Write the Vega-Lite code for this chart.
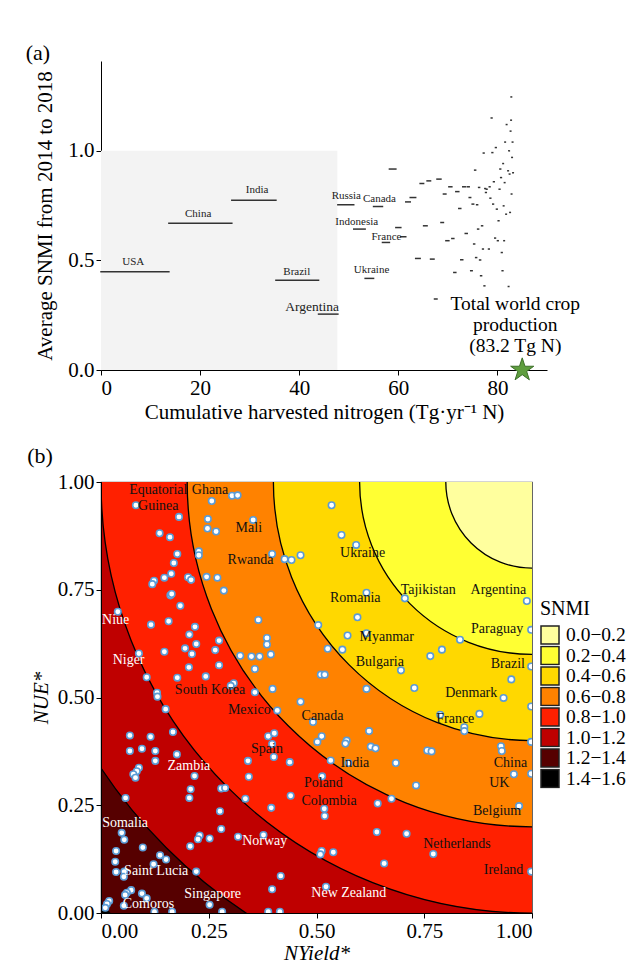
{
  "$schema": "https://vega.github.io/schema/vega-lite/v6.json",
  "background": "white",
  "padding": {"left": 25, "top": 42, "right": 5, "bottom": 0},
  "spacing": 22,
  "columns": 1,
  "align": "none",
  "resolve": {"legend": {"fill": "independent"}},
  "config": {
    "font": "Liberation Serif",
    "view": {"stroke": null},
    "axis": {"labelFont": "Liberation Serif", "titleFont": "Liberation Serif", "labelColor": "black", "titleColor": "black", "domainColor": "black", "tickColor": "black", "grid": false, "labelFontSize": 21, "titleFontSize": 21, "titleFontWeight": "normal", "tickSize": 5, "labelPadding": 2},
    "title": {"font": "Liberation Serif", "fontSize": 22, "fontWeight": "normal", "anchor": "start", "frame": "bounds", "color": "black"}
  },
  "concat": [
    {
      "title": {"text": "(a)", "offset": -4, "dx": -9},
      "width": 446,
      "height": 309,
      "layer": [
        {
          "data": {"values": [{"x0": 0, "x1": 47.7, "y0": 0, "y1": 1}]},
          "mark": {"type": "rect", "fill": "#f3f3f3"},
          "encoding": {
            "x": {"field": "x0", "type": "quantitative", "scale": {"domain": [0, 90], "nice": false, "zero": false}, "title": "Cumulative harvested nitrogen (Tg·yr⁻¹ N)", "axis": {"values": [0, 20, 40, 60, 80], "titlePadding": 3}},
            "x2": {"field": "x1"},
            "y": {"field": "y0", "type": "quantitative", "scale": {"domain": [0, 1.41], "nice": false}, "title": "Average SNMI from 2014 to 2018", "axis": {"values": [0, 0.5, 1], "format": ".1f", "titlePadding": 12}},
            "y2": {"field": "y1"}
          }
        },
        {
          "data": {"values": [
            {"start": 0, "end": 13.7, "snmi": 0.448},
            {"start": 13.7, "end": 26.4, "snmi": 0.67},
            {"start": 26.4, "end": 35.3, "snmi": 0.775},
            {"start": 35.3, "end": 43.9, "snmi": 0.41},
            {"start": 43.9, "end": 47.8, "snmi": 0.255},
            {"start": 47.8, "end": 51.0, "snmi": 0.754},
            {"start": 51.0, "end": 53.3, "snmi": 0.643},
            {"start": 53.3, "end": 55.0, "snmi": 0.418},
            {"start": 55.0, "end": 56.8, "snmi": 0.746},
            {"start": 56.8, "end": 58.2, "snmi": 0.582},
            {"start": 58.2, "end": 59.5, "snmi": 0.917},
            {"start": 59.5, "end": 60.5, "snmi": 0.65},
            {"start": 60.5, "end": 61.5, "snmi": 0.608},
            {"start": 61.5, "end": 62.4, "snmi": 0.767},
            {"start": 62.4, "end": 63.5, "snmi": 0.787},
            {"start": 63.5, "end": 64.4, "snmi": 0.509},
            {"start": 64.4, "end": 65.1, "snmi": 0.851},
            {"start": 65.1, "end": 65.8, "snmi": 0.658},
            {"start": 65.8, "end": 66.5, "snmi": 0.863},
            {"start": 66.5, "end": 67.2, "snmi": 0.506},
            {"start": 67.3, "end": 67.8, "snmi": 0.324},
            {"start": 67.8, "end": 68.6, "snmi": 0.871},
            {"start": 68.6, "end": 69.1, "snmi": 0.673},
            {"start": 69.1, "end": 69.6, "snmi": 0.803},
            {"start": 69.6, "end": 70.2, "snmi": 0.59},
            {"start": 70.2, "end": 70.8, "snmi": 0.836},
            {"start": 70.8, "end": 71.2, "snmi": 0.6},
            {"start": 71.2, "end": 71.6, "snmi": 0.445},
            {"start": 71.6, "end": 72.2, "snmi": 0.814},
            {"start": 72.2, "end": 72.6, "snmi": 0.737},
            {"start": 72.6, "end": 73.0, "snmi": 0.503},
            {"start": 73.0, "end": 73.5, "snmi": 0.836},
            {"start": 73.5, "end": 73.9, "snmi": 0.623},
            {"start": 73.9, "end": 74.3, "snmi": 0.836},
            {"start": 74.3, "end": 74.6, "snmi": 0.787},
            {"start": 74.6, "end": 74.9, "snmi": 0.453},
            {"start": 74.9, "end": 75.2, "snmi": 0.757},
            {"start": 75.2, "end": 75.4, "snmi": 0.575},
            {"start": 75.4, "end": 75.6, "snmi": 0.912},
            {"start": 75.6, "end": 75.8, "snmi": 0.513},
            {"start": 75.8, "end": 76.0, "snmi": 0.754},
            {"start": 76.0, "end": 76.2, "snmi": 0.643},
            {"start": 76.2, "end": 76.4, "snmi": 0.833},
            {"start": 76.4, "end": 76.6, "snmi": 0.502},
            {"start": 76.6, "end": 76.8, "snmi": 0.43},
            {"start": 76.8, "end": 77.0, "snmi": 0.658},
            {"start": 77.0, "end": 77.15, "snmi": 0.552},
            {"start": 77.15, "end": 77.3, "snmi": 0.99},
            {"start": 77.3, "end": 77.45, "snmi": 0.384},
            {"start": 77.45, "end": 77.6, "snmi": 0.828},
            {"start": 77.6, "end": 77.75, "snmi": 0.81},
            {"start": 77.75, "end": 77.9, "snmi": 0.825},
            {"start": 78.2, "end": 78.35, "snmi": 0.552},
            {"start": 78.35, "end": 78.5, "snmi": 0.836},
            {"start": 78.5, "end": 78.65, "snmi": 0.784},
            {"start": 78.75, "end": 78.9, "snmi": 1.15},
            {"start": 78.9, "end": 79.05, "snmi": 0.992},
            {"start": 79.05, "end": 79.2, "snmi": 0.757},
            {"start": 79.2, "end": 79.35, "snmi": 0.859},
            {"start": 79.45, "end": 79.6, "snmi": 0.602},
            {"start": 79.6, "end": 79.75, "snmi": 1.015},
            {"start": 79.8, "end": 79.95, "snmi": 0.734},
            {"start": 80.0, "end": 80.15, "snmi": 0.59},
            {"start": 80.15, "end": 80.3, "snmi": 0.681},
            {"start": 80.35, "end": 80.5, "snmi": 0.825},
            {"start": 80.5, "end": 80.65, "snmi": 0.917},
            {"start": 80.65, "end": 80.8, "snmi": 0.878},
            {"start": 80.8, "end": 80.95, "snmi": 0.536},
            {"start": 80.95, "end": 81.1, "snmi": 0.453},
            {"start": 81.1, "end": 81.2, "snmi": 0.942},
            {"start": 81.2, "end": 81.3, "snmi": 0.749},
            {"start": 81.3, "end": 81.4, "snmi": 0.59},
            {"start": 81.4, "end": 81.5, "snmi": 0.855},
            {"start": 81.5, "end": 81.6, "snmi": 1.04},
            {"start": 81.7, "end": 81.8, "snmi": 0.711},
            {"start": 81.8, "end": 81.9, "snmi": 1.12},
            {"start": 82.1, "end": 82.2, "snmi": 0.909},
            {"start": 82.2, "end": 82.3, "snmi": 0.381},
            {"start": 82.3, "end": 82.4, "snmi": 1.0},
            {"start": 82.4, "end": 82.5, "snmi": 0.894},
            {"start": 82.5, "end": 82.6, "snmi": 0.719},
            {"start": 82.6, "end": 82.7, "snmi": 1.09},
            {"start": 82.7, "end": 82.8, "snmi": 1.14},
            {"start": 82.75, "end": 82.85, "snmi": 1.246},
            {"start": 82.8, "end": 82.9, "snmi": 0.803},
            {"start": 82.9, "end": 83.0, "snmi": 0.97},
            {"start": 83.0, "end": 83.1, "snmi": 1.04},
            {"start": 83.1, "end": 83.2, "snmi": 0.9}
          ]},
          "mark": {"type": "rule", "color": "#333333", "strokeWidth": 1.5, "strokeCap": "square"},
          "encoding": {
            "x": {"field": "start", "type": "quantitative", "scale": {"domain": [0, 90], "nice": false, "zero": false}, "title": "Cumulative harvested nitrogen (Tg·yr⁻¹ N)"},
            "x2": {"field": "end"},
            "y": {"field": "snmi", "type": "quantitative", "scale": {"domain": [0, 1.41], "nice": false}, "title": "Average SNMI from 2014 to 2018"}
          }
        },
        {
          "data": {"values": [
            {"name": "USA", "x": 6.5, "y": 0.491},
            {"name": "China", "x": 19.6, "y": 0.711},
            {"name": "India", "x": 31.5, "y": 0.822},
            {"name": "Brazil", "x": 39.5, "y": 0.445},
            {"name": "Argentina", "x": 42.6, "y": 0.289},
            {"name": "Russia", "x": 49.5, "y": 0.792},
            {"name": "Canada", "x": 56.2, "y": 0.78},
            {"name": "Indonesia", "x": 51.6, "y": 0.676},
            {"name": "France", "x": 57.6, "y": 0.608},
            {"name": "Ukraine", "x": 54.6, "y": 0.457}
          ]},
          "mark": {"type": "text", "color": "#222222", "align": "center", "baseline": "middle"},
          "encoding": {
            "x": {"field": "x", "type": "quantitative", "scale": {"domain": [0, 90], "nice": false, "zero": false}, "title": "Cumulative harvested nitrogen (Tg·yr⁻¹ N)"},
            "y": {"field": "y", "type": "quantitative", "scale": {"domain": [0, 1.41], "nice": false}, "title": "Average SNMI from 2014 to 2018"},
            "text": {"field": "name"},
            "size": {"condition": {"test": "datum.name === 'Argentina'", "value": 13.5}, "value": 11}
          }
        },
        {
          "data": {"values": [{"label": "Total world crop\nproduction\n(83.2 Tg N)", "x": 83.6, "y": 0.301}]},
          "mark": {"type": "text", "fontSize": 19.5, "lineBreak": "\n", "lineHeight": 21, "align": "center", "baseline": "middle", "color": "black"},
          "encoding": {
            "x": {"field": "x", "type": "quantitative", "scale": {"domain": [0, 90], "nice": false, "zero": false}, "title": "Cumulative harvested nitrogen (Tg·yr⁻¹ N)"},
            "y": {"field": "y", "type": "quantitative", "scale": {"domain": [0, 1.41], "nice": false}, "title": "Average SNMI from 2014 to 2018"},
            "text": {"field": "label"}
          }
        },
        {
          "data": {"values": [{"x": 85.0, "y": 0}]},
          "mark": {"type": "point", "shape": "M0,-1L0.2245,-0.309L0.9511,-0.309L0.3633,0.118L0.5878,0.809L0,0.382L-0.5878,0.809L-0.3633,0.118L-0.9511,-0.309L-0.2245,-0.309Z", "size": 590, "filled": true, "fill": "#5f9e3f", "stroke": "#3c6f28", "strokeWidth": 1, "opacity": 1},
          "encoding": {
            "x": {"field": "x", "type": "quantitative", "scale": {"domain": [0, 90], "nice": false, "zero": false}, "title": "Cumulative harvested nitrogen (Tg·yr⁻¹ N)"},
            "y": {"field": "y", "type": "quantitative", "scale": {"domain": [0, 1.41], "nice": false}, "title": "Average SNMI from 2014 to 2018"}
          }
        }
      ]
    },
    {
      "title": {"text": "(b)", "offset": 3, "dx": -3},
      "width": 431,
      "height": 431,
      "view": {"stroke": "#555555", "strokeWidth": 1.2},
      "layer": [
        {
          "data": {"values": [
            {"band": "1.4−1.6", "r": 1.6},
            {"band": "1.2−1.4", "r": 1.4},
            {"band": "1.0−1.2", "r": 1.2},
            {"band": "0.8−1.0", "r": 1.0},
            {"band": "0.6−0.8", "r": 0.8},
            {"band": "0.4−0.6", "r": 0.6},
            {"band": "0.2−0.4", "r": 0.4},
            {"band": "0.0−0.2", "r": 0.2}
          ]},
          "mark": {"type": "point", "shape": "circle", "filled": true, "opacity": 1, "stroke": "black", "strokeWidth": 1.3, "clip": true},
          "encoding": {
            "x": {"datum": 1, "type": "quantitative", "scale": {"domain": [0, 1], "nice": false}, "title": "NYield*", "axis": {"values": [0, 0.25, 0.5, 0.75, 1], "format": ".2f", "titleFontStyle": "italic", "titlePadding": 1, "zindex": 1}},
            "y": {"datum": 1, "type": "quantitative", "scale": {"domain": [0, 1], "nice": false}, "title": "NUE*", "axis": {"values": [0, 0.25, 0.5, 0.75, 1], "format": ".2f", "titleFontStyle": "italic", "titlePadding": 6, "zindex": 1}},
            "size": {"field": "r", "type": "quantitative", "scale": {"type": "pow", "exponent": 2, "domain": [0, 1.6], "range": [0, 1902193]}, "legend": null},
            "fill": {
              "field": "band", "type": "nominal",
              "scale": {
                "domain": ["0.0−0.2", "0.2−0.4", "0.4−0.6", "0.6−0.8", "0.8−1.0", "1.0−1.2", "1.2−1.4", "1.4−1.6"],
                "range": ["#ffff9e", "#ffff33", "#ffd800", "#ff8200", "#ff2000", "#bf0000", "#560000", "#000000"]
              },
              "legend": {"title": "SNMI", "orient": "none", "legendX": 439, "legendY": 117, "symbolType": "square", "symbolSize": 324, "symbolStrokeColor": "#222222", "symbolStrokeWidth": 1.5, "symbolOpacity": 1, "labelFontSize": 19.5, "titleFontSize": 20, "titleFontWeight": "normal", "labelFont": "Liberation Serif", "titleFont": "Liberation Serif", "labelColor": "black", "titleColor": "black", "labelOffset": 6, "rowPadding": 0.5, "clipHeight": 20, "titlePadding": 6, "padding": 0}
            },
            "order": {"field": "r", "sort": "descending"}
          }
        },
        {
          "data": {"values": [
            {"x": 0.081, "y": 0.946}, {"x": 0.181, "y": 0.919}, {"x": 0.136, "y": 0.881}, {"x": 0.16, "y": 0.872}, {"x": 0.177, "y": 0.833}, {"x": 0.169, "y": 0.812}, {"x": 0.163, "y": 0.787}, {"x": 0.147, "y": 0.778}, {"x": 0.123, "y": 0.771}, {"x": 0.119, "y": 0.763}, {"x": 0.202, "y": 0.779}, {"x": 0.209, "y": 0.773}, {"x": 0.257, "y": 0.956}, {"x": 0.304, "y": 0.968}, {"x": 0.317, "y": 0.969}, {"x": 0.248, "y": 0.914}, {"x": 0.247, "y": 0.892}, {"x": 0.267, "y": 0.885}, {"x": 0.353, "y": 0.912}, {"x": 0.227, "y": 0.839}, {"x": 0.227, "y": 0.83}, {"x": 0.245, "y": 0.78}, {"x": 0.27, "y": 0.778}, {"x": 0.285, "y": 0.748}, {"x": 0.397, "y": 0.833}, {"x": 0.426, "y": 0.821}, {"x": 0.442, "y": 0.819}, {"x": 0.463, "y": 0.83}, {"x": 0.535, "y": 0.946}, {"x": 0.161, "y": 0.737}, {"x": 0.164, "y": 0.74},
            {"x": 0.558, "y": 0.877}, {"x": 0.592, "y": 0.854}, {"x": 0.616, "y": 0.743}, {"x": 0.705, "y": 0.73}, {"x": 0.988, "y": 0.724},
            {"x": 0.184, "y": 0.713}, {"x": 0.039, "y": 0.699}, {"x": 0.116, "y": 0.669}, {"x": 0.157, "y": 0.677}, {"x": 0.218, "y": 0.664}, {"x": 0.205, "y": 0.646}, {"x": 0.221, "y": 0.624}, {"x": 0.195, "y": 0.614}, {"x": 0.211, "y": 0.601}, {"x": 0.147, "y": 0.606}, {"x": 0.088, "y": 0.602}, {"x": 0.274, "y": 0.632}, {"x": 0.265, "y": 0.61}, {"x": 0.274, "y": 0.575}, {"x": 0.204, "y": 0.57}, {"x": 0.177, "y": 0.546}, {"x": 0.106, "y": 0.547}, {"x": 0.243, "y": 0.549}, {"x": 0.308, "y": 0.533}, {"x": 0.301, "y": 0.527}, {"x": 0.13, "y": 0.511}, {"x": 0.131, "y": 0.502}, {"x": 0.15, "y": 0.473}, {"x": 0.357, "y": 0.512}, {"x": 0.365, "y": 0.68}, {"x": 0.323, "y": 0.597}, {"x": 0.349, "y": 0.595}, {"x": 0.368, "y": 0.595}, {"x": 0.385, "y": 0.638}, {"x": 0.385, "y": 0.623}, {"x": 0.394, "y": 0.6}, {"x": 0.357, "y": 0.566}, {"x": 0.398, "y": 0.52}, {"x": 0.409, "y": 0.47}, {"x": 0.463, "y": 0.49}, {"x": 0.504, "y": 0.668}, {"x": 0.526, "y": 0.613}, {"x": 0.51, "y": 0.553}, {"x": 0.519, "y": 0.553}, {"x": 0.492, "y": 0.443}, {"x": 0.067, "y": 0.412}, {"x": 0.115, "y": 0.409}, {"x": 0.167, "y": 0.42}, {"x": 0.067, "y": 0.376}, {"x": 0.095, "y": 0.381}, {"x": 0.126, "y": 0.376}, {"x": 0.126, "y": 0.353}, {"x": 0.176, "y": 0.368}, {"x": 0.088, "y": 0.337}, {"x": 0.083, "y": 0.329}, {"x": 0.075, "y": 0.322}, {"x": 0.08, "y": 0.314}, {"x": 0.217, "y": 0.318}, {"x": 0.341, "y": 0.353}, {"x": 0.388, "y": 0.41}, {"x": 0.402, "y": 0.417}, {"x": 0.397, "y": 0.392}, {"x": 0.401, "y": 0.362}, {"x": 0.438, "y": 0.35}, {"x": 0.343, "y": 0.316}, {"x": 0.502, "y": 0.397}, {"x": 0.512, "y": 0.41}, {"x": 0.533, "y": 0.354}, {"x": 0.513, "y": 0.317},
            {"x": 0.595, "y": 0.686}, {"x": 0.572, "y": 0.644}, {"x": 0.616, "y": 0.649}, {"x": 0.56, "y": 0.611}, {"x": 0.833, "y": 0.634}, {"x": 0.998, "y": 0.657}, {"x": 0.791, "y": 0.611}, {"x": 0.764, "y": 0.596}, {"x": 0.696, "y": 0.563}, {"x": 0.998, "y": 0.572}, {"x": 0.952, "y": 0.542}, {"x": 0.616, "y": 0.52}, {"x": 0.727, "y": 0.522}, {"x": 0.934, "y": 0.499}, {"x": 0.998, "y": 0.479}, {"x": 0.878, "y": 0.462}, {"x": 0.787, "y": 0.46}, {"x": 0.843, "y": 0.431}, {"x": 0.843, "y": 0.422}, {"x": 0.622, "y": 0.422}, {"x": 0.57, "y": 0.4}, {"x": 0.567, "y": 0.393}, {"x": 0.626, "y": 0.386}, {"x": 0.637, "y": 0.382}, {"x": 0.757, "y": 0.377}, {"x": 0.767, "y": 0.375}, {"x": 0.928, "y": 0.387}, {"x": 0.93, "y": 0.376}, {"x": 0.998, "y": 0.397}, {"x": 0.574, "y": 0.348}, {"x": 0.684, "y": 0.348},
            {"x": 0.731, "y": 0.296}, {"x": 0.958, "y": 0.322}, {"x": 0.998, "y": 0.323}, {"x": 0.642, "y": 0.254}, {"x": 0.674, "y": 0.265}, {"x": 0.518, "y": 0.242}, {"x": 0.519, "y": 0.225}, {"x": 0.97, "y": 0.248}, {"x": 0.64, "y": 0.188}, {"x": 0.709, "y": 0.184}, {"x": 0.512, "y": 0.144}, {"x": 0.509, "y": 0.136}, {"x": 0.539, "y": 0.141}, {"x": 0.657, "y": 0.115}, {"x": 0.771, "y": 0.137}, {"x": 0.998, "y": 0.096}, {"x": 0.522, "y": 0.061},
            {"x": 0.208, "y": 0.287}, {"x": 0.205, "y": 0.267}, {"x": 0.279, "y": 0.289}, {"x": 0.288, "y": 0.29}, {"x": 0.335, "y": 0.265}, {"x": 0.057, "y": 0.267}, {"x": 0.395, "y": 0.244}, {"x": 0.44, "y": 0.272}, {"x": 0.048, "y": 0.186}, {"x": 0.054, "y": 0.17}, {"x": 0.279, "y": 0.195}, {"x": 0.229, "y": 0.18}, {"x": 0.225, "y": 0.171}, {"x": 0.252, "y": 0.173}, {"x": 0.207, "y": 0.155}, {"x": 0.318, "y": 0.177}, {"x": 0.377, "y": 0.181}, {"x": 0.097, "y": 0.152}, {"x": 0.035, "y": 0.144}, {"x": 0.033, "y": 0.119}, {"x": 0.035, "y": 0.095}, {"x": 0.137, "y": 0.134}, {"x": 0.151, "y": 0.124}, {"x": 0.122, "y": 0.113}, {"x": 0.054, "y": 0.096}, {"x": 0.053, "y": 0.084}, {"x": 0.221, "y": 0.096}, {"x": 0.417, "y": 0.086}, {"x": 0.397, "y": 0.055}, {"x": 0.07, "y": 0.053}, {"x": 0.06, "y": 0.047}, {"x": 0.056, "y": 0.042}, {"x": 0.095, "y": 0.045}, {"x": 0.106, "y": 0.034}, {"x": 0.053, "y": 0.017}, {"x": 0.019, "y": 0.028}, {"x": 0.014, "y": 0.021}, {"x": 0.01, "y": 0.012}, {"x": 0.252, "y": 0.019}, {"x": 0.124, "y": 0.003}, {"x": 0.165, "y": 0.003}, {"x": 0.281, "y": 0.003}, {"x": 0.388, "y": 0.003}, {"x": 0.415, "y": 0.003}, {"x": 0.276, "y": 0.236}
          ]},
          "mark": {"type": "point", "shape": "circle", "filled": true, "fill": "white", "stroke": "#5b9bd5", "strokeWidth": 1.6, "size": 42, "opacity": 1, "clip": true},
          "encoding": {
            "x": {"field": "x", "type": "quantitative", "scale": {"domain": [0, 1], "nice": false}, "title": "NYield*"},
            "y": {"field": "y", "type": "quantitative", "scale": {"domain": [0, 1], "nice": false}, "title": "NUE*"}
          }
        },
        {
          "data": {"values": [
            {"name": "Equatorial\nGuinea", "x": 0.133, "y": 0.981},
            {"name": "Ghana", "x": 0.253, "y": 0.981},
            {"name": "Mali", "x": 0.343, "y": 0.894},
            {"name": "Rwanda", "x": 0.347, "y": 0.819},
            {"name": "Ukraine", "x": 0.607, "y": 0.836},
            {"name": "Tajikistan", "x": 0.759, "y": 0.749},
            {"name": "Argentina", "x": 0.922, "y": 0.749},
            {"name": "Romania", "x": 0.59, "y": 0.732},
            {"name": "Myanmar", "x": 0.663, "y": 0.64},
            {"name": "Paraguay", "x": 0.919, "y": 0.66},
            {"name": "Bulgaria", "x": 0.647, "y": 0.582},
            {"name": "Brazil", "x": 0.944, "y": 0.578},
            {"name": "Denmark", "x": 0.859, "y": 0.51},
            {"name": "France", "x": 0.822, "y": 0.451},
            {"name": "Canada", "x": 0.514, "y": 0.458},
            {"name": "India", "x": 0.589, "y": 0.348},
            {"name": "China", "x": 0.95, "y": 0.348},
            {"name": "UK", "x": 0.924, "y": 0.302},
            {"name": "Poland", "x": 0.516, "y": 0.302},
            {"name": "Colombia", "x": 0.529, "y": 0.26},
            {"name": "Belgium", "x": 0.919, "y": 0.237},
            {"name": "Netherlands", "x": 0.826, "y": 0.161},
            {"name": "Ireland", "x": 0.934, "y": 0.1},
            {"name": "New Zealand", "x": 0.575, "y": 0.046},
            {"name": "South Korea", "x": 0.253, "y": 0.518},
            {"name": "Mexico", "x": 0.344, "y": 0.47},
            {"name": "Spain", "x": 0.385, "y": 0.38},
            {"name": "Niue", "x": 0.034, "y": 0.68},
            {"name": "Niger", "x": 0.064, "y": 0.588},
            {"name": "Zambia", "x": 0.204, "y": 0.341},
            {"name": "Somalia", "x": 0.056, "y": 0.208},
            {"name": "Saint Lucia", "x": 0.128, "y": 0.098},
            {"name": "Comoros", "x": 0.11, "y": 0.022},
            {"name": "Singapore", "x": 0.259, "y": 0.044},
            {"name": "Norway", "x": 0.38, "y": 0.167}
          ]},
          "mark": {"type": "text", "fontSize": 14, "lineBreak": "\n", "lineHeight": 16, "align": "center", "baseline": "middle"},
          "encoding": {
            "x": {"field": "x", "type": "quantitative", "scale": {"domain": [0, 1], "nice": false}, "title": "NYield*"},
            "y": {"field": "y", "type": "quantitative", "scale": {"domain": [0, 1], "nice": false}, "title": "NUE*"},
            "text": {"field": "name"},
            "color": {"condition": {"test": "sqrt(pow(1 - datum.x, 2) + pow(1 - datum.y, 2)) > 1", "value": "white"}, "value": "#111111"}
          }
        }
      ]
    }
  ]
}
